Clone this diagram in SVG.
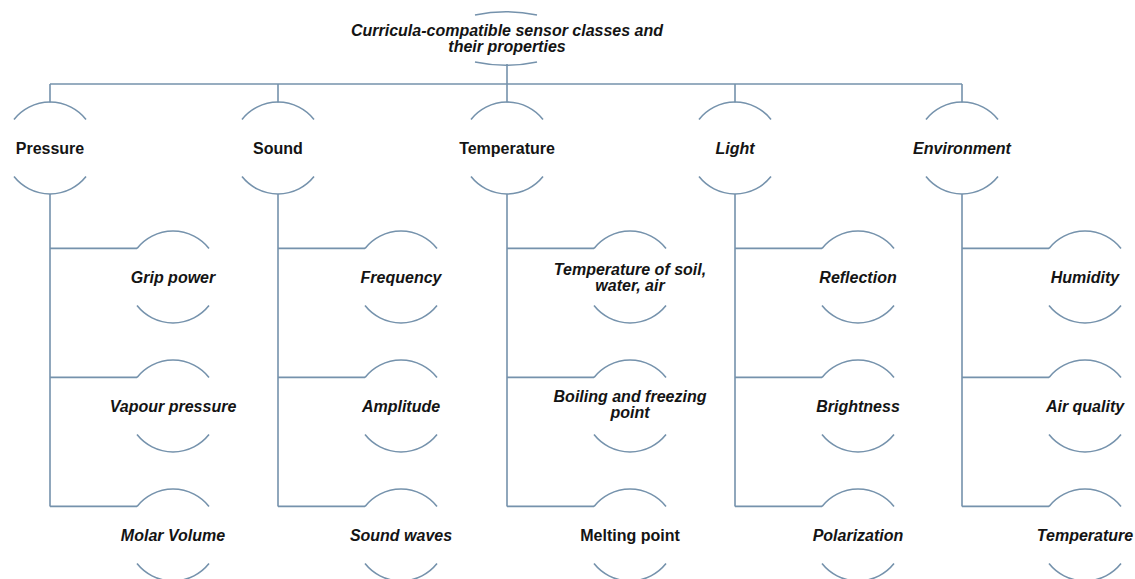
<svg xmlns="http://www.w3.org/2000/svg" width="1135" height="579" viewBox="0 0 1135 579">
<style>
.ln{fill:none;stroke:#7592ac;stroke-width:1.6}
.t{font-family:"Liberation Sans",Arial,sans-serif;font-size:16px;font-weight:bold;fill:#141414;text-anchor:middle}
.i{font-style:italic}
</style>
<defs>
<path id="circ" class="ln" d="M-36,-28.6 A46,46 0 0 1 36,-28.6 M-36,28.6 A46,46 0 0 0 36,28.6"/>
</defs>
<rect width="1135" height="579" fill="#ffffff"/>
<g id="connectors" class="ln">
<path d="M507,64 V102.5 M50,84 H962 M50,84 V102.5 M278,84 V102.5 M735,84 V102.5 M962,84 V102.5"/>
<path d="M50,194 V506.4 M50,248.4 H137 M50,377.4 H137 M50,506.4 H137"/>
<path d="M278,194 V506.4 M278,248.4 H365 M278,377.4 H365 M278,506.4 H365"/>
<path d="M507,194 V506.4 M507,248.4 H594 M507,377.4 H594 M507,506.4 H594"/>
<path d="M735,194 V506.4 M735,248.4 H822 M735,377.4 H822 M735,506.4 H822"/>
<path d="M962,194 V506.4 M962,248.4 H1049 M962,377.4 H1049 M962,506.4 H1049"/>
</g>
<g id="root">
<path class="ln" d="M475,15 A150,150 0 0 1 537,15 M475,62 A150,150 0 0 0 537,62"/>
<text class="t i" x="507" y="36">Curricula-compatible sensor classes and</text>
<text class="t i" x="507" y="52">their properties</text>
</g>
<g id="pressure"><use href="#circ" x="50" y="148"/><text class="t" x="50" y="153.5">Pressure</text></g>
<g id="sound"><use href="#circ" x="278" y="148"/><text class="t" x="278" y="153.5">Sound</text></g>
<g id="temperature"><use href="#circ" x="507" y="148"/><text class="t" x="507" y="153.5">Temperature</text></g>
<g id="light"><use href="#circ" x="735" y="148"/><text class="t i" x="735" y="153.5">Light</text></g>
<g id="environment"><use href="#circ" x="962" y="148"/><text class="t i" x="962" y="153.5">Environment</text></g>

<g id="grip-power"><use href="#circ" x="173" y="277"/><text class="t i" x="173" y="282.5">Grip power</text></g>
<g id="vapour-pressure"><use href="#circ" x="173" y="406"/><text class="t i" x="173" y="411.5">Vapour pressure</text></g>
<g id="molar-volume"><use href="#circ" x="173" y="535"/><text class="t i" x="173" y="540.5">Molar Volume</text></g>

<g id="frequency"><use href="#circ" x="401" y="277"/><text class="t i" x="401" y="282.5">Frequency</text></g>
<g id="amplitude"><use href="#circ" x="401" y="406"/><text class="t i" x="401" y="411.5">Amplitude</text></g>
<g id="sound-waves"><use href="#circ" x="401" y="535"/><text class="t i" x="401" y="540.5">Sound waves</text></g>

<g id="temp-soil"><use href="#circ" x="630" y="277"/><text class="t i" x="630" y="275">Temperature of soil,</text><text class="t i" x="630" y="290.5">water, air</text></g>
<g id="boiling"><use href="#circ" x="630" y="406"/><text class="t i" x="630" y="402">Boiling and freezing</text><text class="t i" x="630" y="418">point</text></g>
<g id="melting"><use href="#circ" x="630" y="535"/><text class="t" x="630" y="540.5">Melting point</text></g>

<g id="reflection"><use href="#circ" x="858" y="277"/><text class="t i" x="858" y="282.5">Reflection</text></g>
<g id="brightness"><use href="#circ" x="858" y="406"/><text class="t i" x="858" y="411.5">Brightness</text></g>
<g id="polarization"><use href="#circ" x="858" y="535"/><text class="t i" x="858" y="540.5">Polarization</text></g>

<g id="humidity"><use href="#circ" x="1085" y="277"/><text class="t i" x="1085" y="282.5">Humidity</text></g>
<g id="air-quality"><use href="#circ" x="1085" y="406"/><text class="t i" x="1085" y="411.5">Air quality</text></g>
<g id="env-temperature"><use href="#circ" x="1085" y="535"/><text class="t i" x="1085" y="540.5">Temperature</text></g>
</svg>
